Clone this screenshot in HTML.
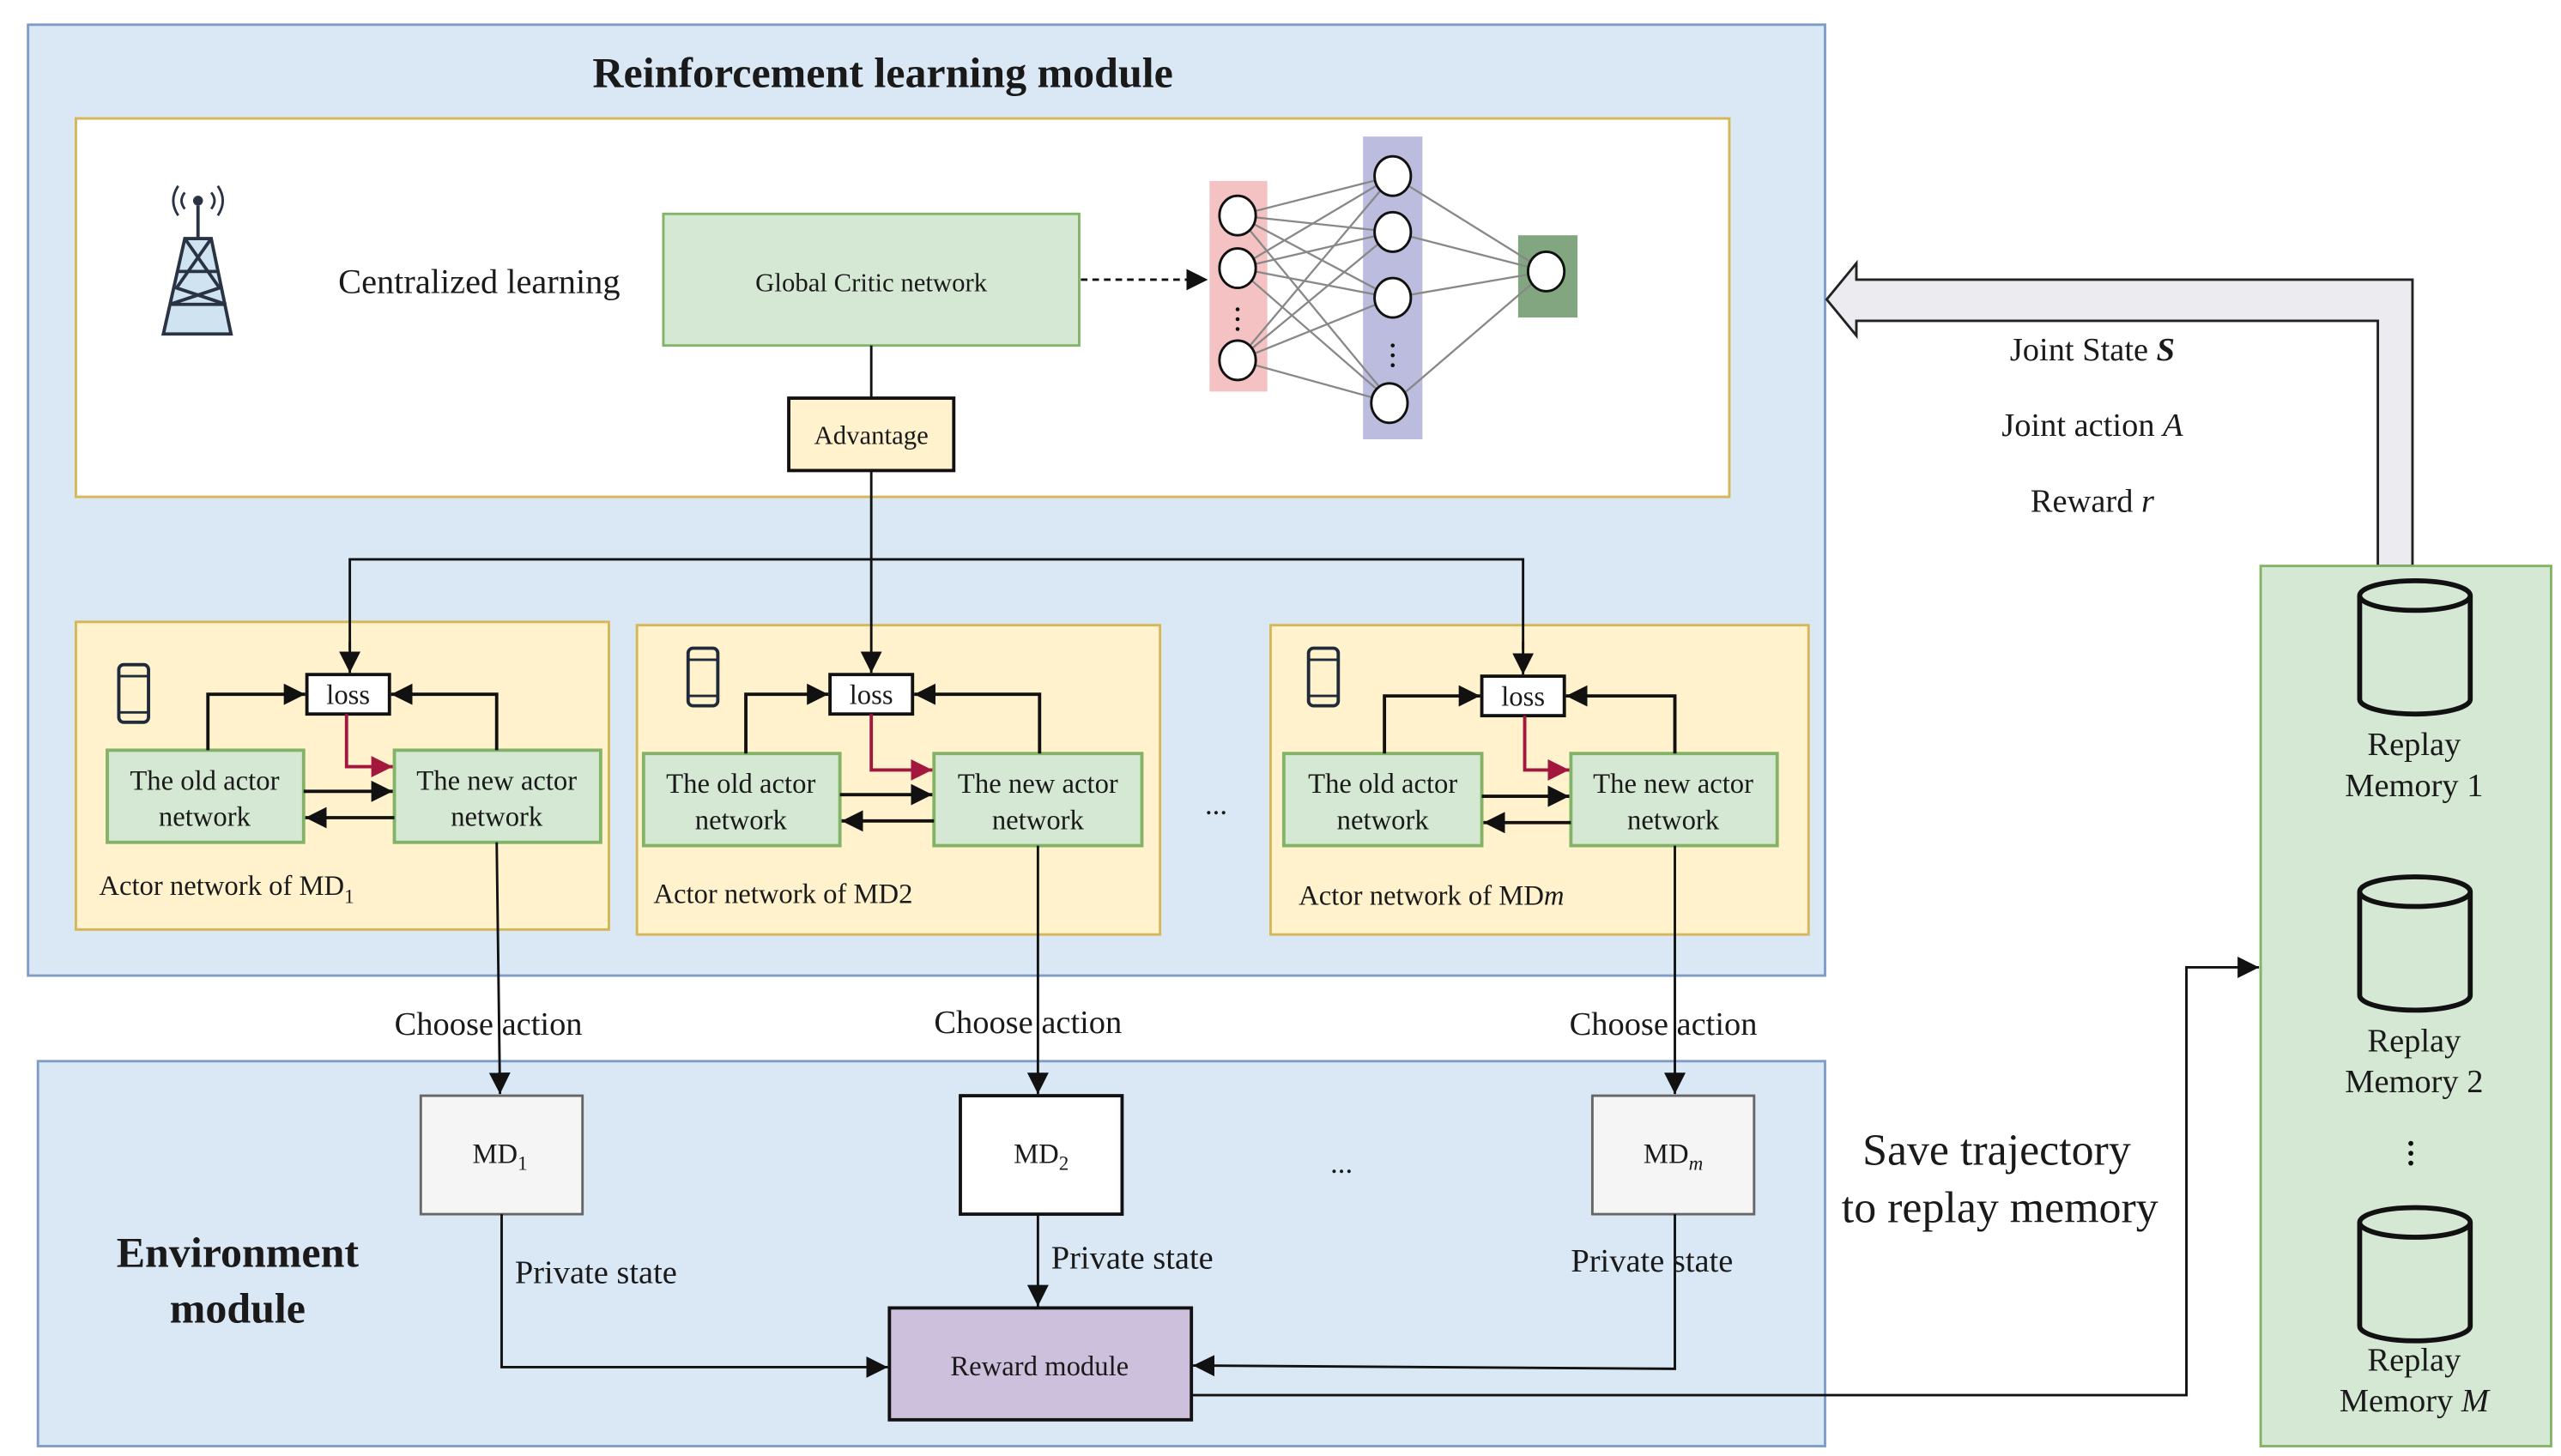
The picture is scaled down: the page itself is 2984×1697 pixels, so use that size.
<!DOCTYPE html>
<html><head><meta charset="utf-8"><style>
html,body{margin:0;padding:0;background:#fff;}
svg{display:block;}
text{font-family:"Liberation Serif",serif;fill:#1a1a1a;}
</style></head><body>
<svg width="2984" height="1697" viewBox="0 0 1552 885" preserveAspectRatio="none" xmlns="http://www.w3.org/2000/svg">
<defs>
<marker id="ab" viewBox="0 0 10 10" refX="10" refY="5" markerWidth="13" markerHeight="13" markerUnits="userSpaceOnUse" orient="auto"><path d="M0,0L10,5L0,10z" fill="#111"/></marker>
<marker id="ar" viewBox="0 0 10 10" refX="10" refY="5" markerWidth="13" markerHeight="13" markerUnits="userSpaceOnUse" orient="auto"><path d="M0,0L10,5L0,10z" fill="#a3173f"/></marker>
</defs>
<!-- RL module -->
<rect x="17" y="15" width="1089" height="578" fill="#dae8f5" stroke="#7f9cc9" stroke-width="1.5"/>
<text x="535" y="53" font-size="26" font-weight="bold" text-anchor="middle">Reinforcement learning module</text>
<rect x="46" y="72" width="1002" height="230" fill="#fff" stroke="#d6b656" stroke-width="1.5"/>
<!-- tower -->
<g stroke="#2a3344" stroke-width="2" fill="none">
<line x1="120" y1="125" x2="120" y2="145"/>
<path d="M112,145 L128,145 L140,203 L99,203 Z" fill="#cfe3f1"/>
<path d="M112,145 L133,175 L103,185 M128,145 L107,175 L137,185 M108,165 L132,165 M104,185 L136,185"/>
<path d="M112,117 Q108,122 112,127 M128,117 Q132,122 128,127 M108,113 Q102,122 108,131 M132,113 Q138,122 132,131" stroke-width="1.5"/>
<circle cx="120" cy="122" r="2" fill="#2a3344"/>
</g>
<text x="205" y="178" font-size="21">Centralized learning</text>
<rect x="402" y="130" width="252" height="80" fill="#d5e8d4" stroke="#82b366" stroke-width="1.5"/>
<text x="528" y="177" font-size="16" text-anchor="middle">Global Critic network</text>
<line x1="655" y1="170" x2="732" y2="170" stroke="#111" stroke-width="1.5" stroke-dasharray="4,3" marker-end="url(#ab)"/>
<!-- NN -->
<rect x="733" y="110" width="35" height="128" fill="#f4c2c2"/>
<rect x="826" y="83" width="36" height="184" fill="#bcbcdf"/>
<rect x="920" y="143" width="36" height="50" fill="#82a67f"/>
<g stroke="#888" stroke-width="1.2">
<line x1="750" y1="131" x2="844" y2="107"/><line x1="750" y1="131" x2="844" y2="141"/><line x1="750" y1="131" x2="844" y2="181"/><line x1="750" y1="131" x2="844" y2="245"/>
<line x1="750" y1="163" x2="844" y2="107"/><line x1="750" y1="163" x2="844" y2="141"/><line x1="750" y1="163" x2="844" y2="181"/><line x1="750" y1="163" x2="844" y2="245"/>
<line x1="750" y1="219" x2="844" y2="107"/><line x1="750" y1="219" x2="844" y2="141"/><line x1="750" y1="219" x2="844" y2="181"/><line x1="750" y1="219" x2="844" y2="245"/>
<line x1="844" y1="107" x2="937" y2="165"/><line x1="844" y1="141" x2="937" y2="165"/><line x1="844" y1="181" x2="937" y2="165"/><line x1="844" y1="245" x2="937" y2="165"/>
</g>
<g fill="#fff" stroke="#111" stroke-width="1.5">
<ellipse cx="750" cy="131" rx="11" ry="12"/><ellipse cx="750" cy="163" rx="11" ry="12"/><ellipse cx="750" cy="219" rx="11" ry="12"/>
<ellipse cx="844" cy="107" rx="11" ry="12"/><ellipse cx="844" cy="141" rx="11" ry="12"/><ellipse cx="844" cy="181" rx="11" ry="12"/><ellipse cx="842" cy="245" rx="11" ry="12"/>
<ellipse cx="937" cy="165" rx="11" ry="12"/>
</g>
<g fill="#111"><circle cx="750" cy="188" r="1.2"/><circle cx="750" cy="194" r="1.2"/><circle cx="750" cy="200" r="1.2"/>
<circle cx="844" cy="210" r="1.2"/><circle cx="844" cy="216" r="1.2"/><circle cx="844" cy="222" r="1.2"/></g>
<!-- actor boxes (drawn before connectors) -->
<rect x="46" y="378" width="323" height="187" fill="#fff2cc" stroke="#d6b656" stroke-width="1.5"/>
<rect x="386" y="380" width="317" height="188" fill="#fff2cc" stroke="#d6b656" stroke-width="1.5"/>
<rect x="770" y="380" width="326" height="188" fill="#fff2cc" stroke="#d6b656" stroke-width="1.5"/>
<text x="737" y="495" font-size="18" text-anchor="middle">...</text>
<!-- advantage -->
<line x1="528" y1="210" x2="528" y2="242" stroke="#111" stroke-width="1.5"/>
<rect x="478" y="242" width="100" height="44" fill="#fff2cc" stroke="#111" stroke-width="2"/>
<text x="528" y="270" font-size="16" text-anchor="middle">Advantage</text>
<line x1="528" y1="286" x2="528" y2="409" stroke="#111" stroke-width="1.5" marker-end="url(#ab)"/>
<polyline points="212,395 212,340 923,340 923,395" fill="none" stroke="#111" stroke-width="1.5"/>
<line x1="212" y1="390" x2="212" y2="409" stroke="#111" stroke-width="1.5" marker-end="url(#ab)"/>
<line x1="923" y1="390" x2="923" y2="410" stroke="#111" stroke-width="1.5" marker-end="url(#ab)"/>

<!-- group 1 -->
<g>
<rect x="72" y="404" width="18" height="35" rx="3" fill="none" stroke="#1f2a3a" stroke-width="2"/><line x1="72" y1="411" x2="90" y2="411" stroke="#1f2a3a" stroke-width="1.5"/><line x1="72" y1="433" x2="90" y2="433" stroke="#1f2a3a" stroke-width="1.5"/>
<rect x="186" y="410" width="50" height="24" fill="#fff" stroke="#111" stroke-width="2"/><text x="211" y="428" font-size="17" text-anchor="middle">loss</text>
<rect x="65" y="456" width="119" height="56" fill="#d5e8d4" stroke="#82b366" stroke-width="2"/>
<rect x="239" y="456" width="125" height="56" fill="#d5e8d4" stroke="#82b366" stroke-width="2"/>
<text x="124" y="480" font-size="17" text-anchor="middle">The old actor</text><text x="124" y="502" font-size="17" text-anchor="middle">network</text>
<text x="301" y="480" font-size="17" text-anchor="middle">The new actor</text><text x="301" y="502" font-size="17" text-anchor="middle">network</text>
<polyline points="126,456 126,422 185,422" fill="none" stroke="#111" stroke-width="2" marker-end="url(#ab)"/>
<polyline points="301,456 301,422 237,422" fill="none" stroke="#111" stroke-width="2" marker-end="url(#ab)"/>
<polyline points="210,434 210,466 238,466" fill="none" stroke="#a3173f" stroke-width="2" marker-end="url(#ar)"/>
<line x1="184" y1="481" x2="238" y2="481" stroke="#111" stroke-width="2" marker-end="url(#ab)"/>
<line x1="239" y1="497" x2="185" y2="497" stroke="#111" stroke-width="2" marker-end="url(#ab)"/>
<text x="60" y="544" font-size="17">Actor network of MD<tspan font-size="12" dy="5">1</tspan></text>
</g>
<!-- group 2 -->
<g>
<rect x="417" y="394" width="18" height="35" rx="3" fill="none" stroke="#1f2a3a" stroke-width="2"/><line x1="417" y1="401" x2="435" y2="401" stroke="#1f2a3a" stroke-width="1.5"/><line x1="417" y1="423" x2="435" y2="423" stroke="#1f2a3a" stroke-width="1.5"/>
<rect x="503" y="410" width="50" height="24" fill="#fff" stroke="#111" stroke-width="2"/><text x="528" y="428" font-size="17" text-anchor="middle">loss</text>
<rect x="390" y="458" width="119" height="56" fill="#d5e8d4" stroke="#82b366" stroke-width="2"/>
<rect x="566" y="458" width="126" height="56" fill="#d5e8d4" stroke="#82b366" stroke-width="2"/>
<text x="449" y="482" font-size="17" text-anchor="middle">The old actor</text><text x="449" y="504" font-size="17" text-anchor="middle">network</text>
<text x="629" y="482" font-size="17" text-anchor="middle">The new actor</text><text x="629" y="504" font-size="17" text-anchor="middle">network</text>
<polyline points="452,458 452,422 502,422" fill="none" stroke="#111" stroke-width="2" marker-end="url(#ab)"/>
<polyline points="630,458 630,422 554,422" fill="none" stroke="#111" stroke-width="2" marker-end="url(#ab)"/>
<polyline points="528,434 528,468 565,468" fill="none" stroke="#a3173f" stroke-width="2" marker-end="url(#ar)"/>
<line x1="509" y1="483" x2="565" y2="483" stroke="#111" stroke-width="2" marker-end="url(#ab)"/>
<line x1="566" y1="499" x2="510" y2="499" stroke="#111" stroke-width="2" marker-end="url(#ab)"/>
<text x="396" y="549" font-size="17">Actor network of MD2</text>
</g>
<!-- group 3 -->
<g>
<rect x="793" y="394" width="18" height="35" rx="3" fill="none" stroke="#1f2a3a" stroke-width="2"/><line x1="793" y1="401" x2="811" y2="401" stroke="#1f2a3a" stroke-width="1.5"/><line x1="793" y1="423" x2="811" y2="423" stroke="#1f2a3a" stroke-width="1.5"/>
<rect x="898" y="411" width="50" height="24" fill="#fff" stroke="#111" stroke-width="2"/><text x="923" y="429" font-size="17" text-anchor="middle">loss</text>
<rect x="778" y="458" width="120" height="56" fill="#d5e8d4" stroke="#82b366" stroke-width="2"/>
<rect x="952" y="458" width="125" height="56" fill="#d5e8d4" stroke="#82b366" stroke-width="2"/>
<text x="838" y="482" font-size="17" text-anchor="middle">The old actor</text><text x="838" y="504" font-size="17" text-anchor="middle">network</text>
<text x="1014" y="482" font-size="17" text-anchor="middle">The new actor</text><text x="1014" y="504" font-size="17" text-anchor="middle">network</text>
<polyline points="839,458 839,423 897,423" fill="none" stroke="#111" stroke-width="2" marker-end="url(#ab)"/>
<polyline points="1015,458 1015,423 949,423" fill="none" stroke="#111" stroke-width="2" marker-end="url(#ab)"/>
<polyline points="924,435 924,468 951,468" fill="none" stroke="#a3173f" stroke-width="2" marker-end="url(#ar)"/>
<line x1="898" y1="484" x2="951" y2="484" stroke="#111" stroke-width="2" marker-end="url(#ab)"/>
<line x1="952" y1="500" x2="899" y2="500" stroke="#111" stroke-width="2" marker-end="url(#ab)"/>
<text x="787" y="550" font-size="17">Actor network of MD<tspan font-style="italic">m</tspan></text>
</g>

<!-- Environment module -->
<rect x="23" y="645" width="1083" height="234" fill="#dae8f5" stroke="#7f9cc9" stroke-width="1.5"/>
<line x1="301" y1="512" x2="303" y2="665" stroke="#111" stroke-width="1.5" marker-end="url(#ab)"/>
<line x1="629" y1="514" x2="629" y2="665" stroke="#111" stroke-width="1.5" marker-end="url(#ab)"/>
<line x1="1015" y1="514" x2="1015" y2="665" stroke="#111" stroke-width="1.5" marker-end="url(#ab)"/>
<text x="296" y="629" font-size="20" text-anchor="middle">Choose action</text>
<text x="623" y="628" font-size="20" text-anchor="middle">Choose action</text>
<text x="1008" y="629" font-size="20" text-anchor="middle">Choose action</text>
<rect x="255" y="666" width="98" height="72" fill="#f5f5f5" stroke="#666" stroke-width="1.5"/>
<rect x="582" y="666" width="98" height="72" fill="#fff" stroke="#111" stroke-width="2"/>
<rect x="965" y="666" width="98" height="72" fill="#f5f5f5" stroke="#666" stroke-width="1.5"/>
<text x="303" y="707" font-size="17" text-anchor="middle">MD<tspan font-size="12" dy="4">1</tspan></text>
<text x="631" y="707" font-size="17" text-anchor="middle">MD<tspan font-size="12" dy="4">2</tspan></text>
<text x="1014" y="707" font-size="17" text-anchor="middle">MD<tspan font-size="12" dy="4" font-style="italic">m</tspan></text>
<text x="813" y="713" font-size="18" text-anchor="middle">...</text>
<text x="144" y="770" font-size="26" font-weight="bold" text-anchor="middle">Environment</text>
<text x="144" y="804" font-size="26" font-weight="bold" text-anchor="middle">module</text>
<rect x="539" y="795" width="183" height="68" fill="#cdc0dc" stroke="#111" stroke-width="2"/>
<text x="630" y="836" font-size="17" text-anchor="middle">Reward module</text>
<polyline points="304,738 304,831 538,831" fill="none" stroke="#111" stroke-width="1.5" marker-end="url(#ab)"/>
<line x1="629" y1="738" x2="629" y2="794" stroke="#111" stroke-width="1.5" marker-end="url(#ab)"/>
<polyline points="1015,738 1015,832 723,830" fill="none" stroke="#111" stroke-width="1.5" marker-end="url(#ab)"/>
<text x="312" y="780" font-size="20">Private state</text>
<text x="637" y="771" font-size="20">Private state</text>
<text x="952" y="773" font-size="20">Private state</text>
<polyline points="722,848 1325,848 1325,588 1369,588" fill="none" stroke="#111" stroke-width="1.5" marker-end="url(#ab)"/>
<text x="1210" y="708" font-size="27" text-anchor="middle">Save trajectory</text>
<text x="1212" y="743" font-size="27" text-anchor="middle">to replay memory</text>

<!-- Replay memory -->
<polygon points="1441,344 1441,195 1125,195 1125,204 1107,182 1125,160 1125,170 1462,170 1462,344" fill="#ebebf0" stroke="#222" stroke-width="1.5"/>
<text x="1268" y="219" font-size="20" text-anchor="middle">Joint State <tspan font-weight="bold" font-style="italic">S</tspan></text>
<text x="1268" y="265" font-size="20" text-anchor="middle">Joint action <tspan font-style="italic">A</tspan></text>
<text x="1268" y="311" font-size="20" text-anchor="middle">Reward <tspan font-style="italic">r</tspan></text>
<rect x="1370" y="344" width="176" height="535" fill="#d5e8d4" stroke="#82b366" stroke-width="1.5"/>
<g fill="#d5e8d4" stroke="#111" stroke-width="3">
<path d="M1430,362 L1430,425 A33.5,9 0 0 0 1497,425 L1497,362"/><ellipse cx="1463.5" cy="362" rx="33.5" ry="9"/>
<path d="M1430,542 L1430,605 A33.5,9 0 0 0 1497,605 L1497,542"/><ellipse cx="1463.5" cy="542" rx="33.5" ry="9"/>
<path d="M1430,743 L1430,806 A33.5,9 0 0 0 1497,806 L1497,743"/><ellipse cx="1463.5" cy="743" rx="33.5" ry="9"/>
</g>
<text x="1463" y="459" font-size="20" text-anchor="middle">Replay</text><text x="1463" y="484" font-size="20" text-anchor="middle">Memory 1</text>
<text x="1463" y="639" font-size="20" text-anchor="middle">Replay</text><text x="1463" y="664" font-size="20" text-anchor="middle">Memory 2</text>
<text x="1463" y="833" font-size="20" text-anchor="middle">Replay</text><text x="1463" y="858" font-size="20" text-anchor="middle">Memory <tspan font-style="italic">M</tspan></text>
<g fill="#111"><circle cx="1461" cy="695" r="1.5"/><circle cx="1461" cy="701" r="1.5"/><circle cx="1461" cy="707" r="1.5"/></g>
</svg>
</body></html>
